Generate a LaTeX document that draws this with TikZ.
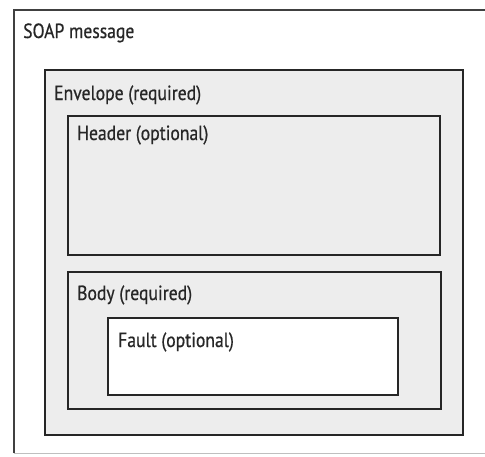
\documentclass[tikz,border=0pt]{standalone}
\usepackage{fontspec}
\setmainfont{PT Sans}[FakeStretch=0.86,FakeBold=0.6]
\definecolor{boxfill}{HTML}{EDEDED}
\definecolor{edge}{HTML}{262626}
\tikzset{
  part/.style={draw=edge, line width=2.4pt, fill=boxfill},
  whitepart/.style={draw=edge, line width=2.4pt, fill=white},
  lbl/.style={anchor=base west, inner sep=0pt, font=\fontsize{20.5}{22}\selectfont, text=black!85}
}
\begin{document}
\begin{tikzpicture}[x=1pt,y=-1pt]
\useasboundingbox (0,0) rectangle (485,456);
\fill[white] (0,0) rectangle (485,456);
% outer SOAP message box
\coordinate (otl) at (14,10);
\coordinate (otr) at (490,10);
\coordinate (obl) at (14,453);
\coordinate (obr) at (490,453);
\draw[draw=black!75, line width=1.8pt] (obl) -- (otl) -- (otr);
\draw[draw=black!25, line width=1pt] (obl) -- (obr);
\node[lbl] (soap) at (23,38) {SOAP message};
% envelope
\draw[part] (45,70) rectangle (463,435);
\node[lbl] (env) at (54,100) {Envelope (required)};
% header
\draw[part] (68,116) rectangle (440,255);
\node[lbl] (hdr) at (77,140) {Header (optional)};
% body
\draw[part] (68,272) rectangle (441,409);
\node[lbl] (body) at (77,300) {Body (required)};
% fault
\draw[whitepart] (108,318) rectangle (398,395);
\node[lbl] (fault) at (118,347) {Fault (optional)};
\end{tikzpicture}
\end{document}
